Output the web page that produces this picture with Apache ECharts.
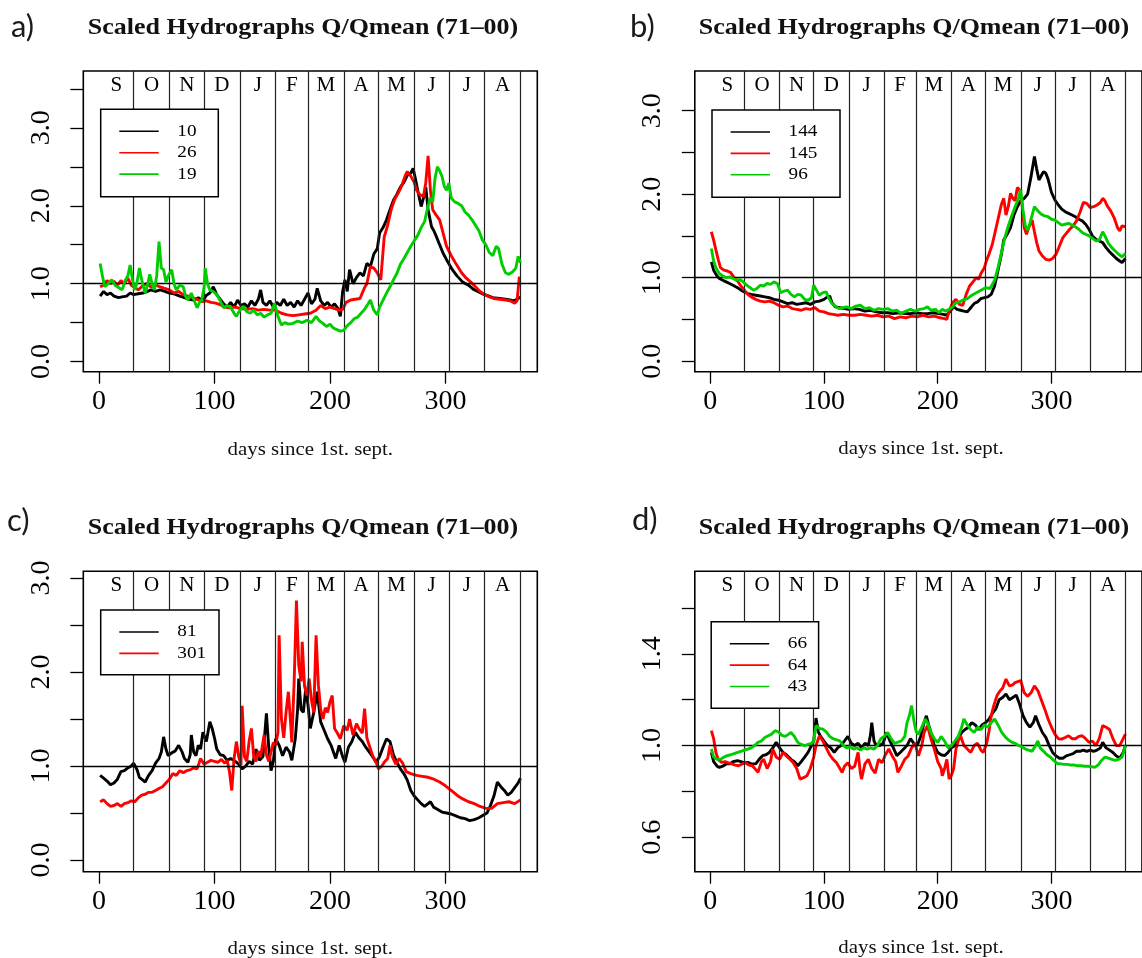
<!DOCTYPE html>
<html><head><meta charset="utf-8">
<script src="https://cdn.jsdelivr.net/npm/echarts@6.0.0/dist/echarts.min.js"></script>
<style>html,body{margin:0;padding:0;background:#fff}#chart{width:1142px;height:958px}</style>
</head><body><div id="chart"></div>
<script>
// ---------- shared axis data ----------
const monthStarts = [0,30,61,91,122,153,181,212,242,273,303,334,365];
const monthLetters = ['S','O','N','D','J','F','M','A','M','J','J','A'];
const xTickValues = [0,100,200,300];
const titleText = 'Scaled Hydrographs Q/Qmean (71\u201300)';
const xAxisTitle = 'days since 1st. sept.';
const seriesColors = ['#000000','#ff0000','#00cd00'];

// ---------- panel a ----------
const aNames = ['10','26','19'];
const aYTicks = [0,0.5,1,1.5,2,2.5,3,3.5];
const aYLabels = [0,1,2,3];
const a10 = [[1,0.84],[4,0.9],[7,0.86],[10,0.88],[13,0.84],[17,0.82],[20,0.83],[24,0.84],[27,0.88],[30,0.86],[34,0.87],[38,0.88],[42,0.9],[45,0.92],[49,0.9],[53,0.92],[57,0.9],[61,0.88],[65,0.87],[70,0.84],[74,0.82],[78,0.8],[82,0.79],[86,0.82],[90,0.78],[93,0.85],[96,0.88],[99,0.96],[102,0.86],[105,0.8],[108,0.74],[111,0.7],[114,0.76],[117,0.7],[120,0.79],[123,0.72],[126,0.74],[129,0.7],[132,0.78],[135,0.72],[138,0.8],[140,0.92],[142,0.76],[145,0.72],[148,0.78],[151,0.7],[154,0.76],[157,0.72],[160,0.8],[163,0.72],[166,0.76],[169,0.7],[172,0.78],[175,0.72],[178,0.8],[181,0.88],[184,0.74],[187,0.8],[189,0.94],[192,0.78],[195,0.72],[198,0.76],[201,0.7],[204,0.74],[207,0.68],[209,0.58],[211,0.9],[213,1.05],[215,0.9],[217,1.18],[220,1.0],[223,1.08],[226,1.14],[229,1.1],[232,1.26],[235,1.22],[238,1.38],[241,1.45],[243,1.65],[246,1.72],[249,1.82],[252,1.95],[255,2.07],[258,2.15],[261,2.24],[264,2.3],[267,2.39],[270,2.42],[272,2.48],[274,2.35],[276,2.2],[279,1.99],[281,2.1],[283,2.24],[285,1.95],[288,1.73],[290,1.68],[292,1.61],[295,1.5],[298,1.39],[302,1.28],[306,1.18],[310,1.1],[315,1.02],[320,0.98],[324,0.93],[328,0.9],[332,0.87],[336,0.85],[341,0.82],[347,0.81],[352,0.8],[356,0.79],[359,0.78],[362,0.8],[365,0.83]];
const a26 = [[1,0.96],[4,0.98],[7,1.04],[10,1.0],[13,1.03],[16,0.98],[19,1.04],[22,1.0],[25,1.07],[28,0.98],[31,0.95],[34,0.92],[37,0.96],[41,1.0],[45,0.96],[49,0.98],[53,0.96],[57,0.94],[61,0.92],[65,0.88],[69,0.9],[73,0.86],[77,0.84],[81,0.82],[85,0.8],[89,0.77],[93,0.78],[97,0.76],[101,0.75],[105,0.73],[109,0.7],[113,0.69],[118,0.7],[123,0.68],[128,0.67],[133,0.68],[138,0.66],[143,0.67],[148,0.66],[153,0.66],[158,0.62],[163,0.6],[168,0.59],[173,0.6],[178,0.61],[183,0.62],[188,0.66],[192,0.72],[196,0.68],[200,0.7],[204,0.68],[208,0.66],[211,0.67],[214,0.76],[218,0.79],[222,0.8],[226,0.81],[230,0.95],[232,1.0],[235,1.22],[238,1.2],[241,1.14],[244,1.05],[247,1.6],[250,1.75],[253,1.95],[256,2.08],[259,2.16],[262,2.25],[265,2.38],[267,2.44],[270,2.38],[273,2.3],[275,2.2],[278,2.14],[281,2.12],[283,2.3],[285,2.64],[287,2.2],[289,1.95],[292,1.88],[295,1.82],[298,1.65],[301,1.48],[305,1.36],[309,1.26],[314,1.14],[318,1.07],[322,1.02],[326,0.96],[330,0.9],[334,0.86],[338,0.83],[342,0.81],[347,0.8],[352,0.79],[356,0.78],[360,0.75],[362,0.78],[364,1.09]];
const a19 = [[1,1.26],[3,1.1],[5,0.96],[8,1.0],[11,1.05],[14,0.98],[17,0.95],[20,0.92],[23,1.05],[25,1.1],[27,1.24],[29,1.05],[31,0.92],[33,1.02],[35,1.2],[37,1.05],[40,0.88],[42,0.98],[44,1.12],[46,1.0],[48,0.92],[50,1.1],[52,1.54],[54,1.2],[56,1.18],[58,1.02],[60,1.1],[63,1.18],[65,1.0],[67,0.92],[70,0.98],[73,0.96],[75,0.84],[77,0.79],[80,0.88],[82,0.8],[85,0.69],[87,0.76],[89,0.79],[91,0.95],[92,1.2],[94,1.0],[96,0.92],[99,0.9],[102,0.86],[105,0.78],[108,0.69],[111,0.72],[114,0.7],[117,0.62],[119,0.58],[122,0.66],[125,0.71],[128,0.64],[131,0.62],[134,0.66],[137,0.6],[140,0.62],[143,0.57],[146,0.6],[149,0.62],[152,0.75],[155,0.58],[158,0.47],[161,0.5],[164,0.48],[168,0.49],[172,0.52],[176,0.5],[180,0.53],[184,0.5],[188,0.58],[191,0.52],[194,0.49],[197,0.45],[200,0.48],[203,0.43],[206,0.41],[209,0.39],[212,0.4],[215,0.46],[218,0.5],[221,0.55],[224,0.57],[227,0.62],[230,0.67],[233,0.74],[235,0.79],[238,0.66],[241,0.6],[243,0.7],[246,0.79],[249,0.88],[252,0.96],[255,1.05],[258,1.13],[261,1.25],[264,1.32],[267,1.4],[270,1.48],[273,1.55],[276,1.62],[279,1.72],[282,1.8],[285,2.0],[287,2.1],[289,2.05],[291,2.35],[293,2.5],[295,2.45],[297,2.38],[299,2.25],[301,2.2],[303,2.29],[305,2.1],[308,2.05],[311,2.03],[314,2.0],[317,1.92],[320,1.88],[323,1.82],[326,1.75],[329,1.68],[332,1.56],[335,1.5],[338,1.4],[341,1.36],[344,1.48],[346,1.45],[349,1.25],[352,1.14],[355,1.12],[358,1.15],[361,1.2],[363,1.35],[365,1.27]];

// ---------- panel b ----------
const bNames = ['144','145','96'];
const bYTicks = [0,0.5,1,1.5,2,2.5,3];
const bYLabels = [0,1,2,3];
const b144 = [[1,1.19],[3,1.09],[6,1.02],[8,0.99],[11,0.97],[14,0.95],[17,0.93],[20,0.91],[24,0.88],[27,0.85],[30,0.83],[33,0.81],[36,0.8],[40,0.79],[44,0.78],[48,0.77],[52,0.76],[56,0.74],[60,0.73],[64,0.71],[68,0.69],[72,0.7],[76,0.68],[80,0.69],[84,0.7],[88,0.68],[92,0.71],[96,0.72],[100,0.74],[103,0.77],[105,0.78],[107,0.7],[110,0.65],[114,0.64],[118,0.63],[122,0.62],[126,0.63],[131,0.62],[136,0.6],[141,0.61],[146,0.59],[151,0.58],[156,0.58],[161,0.57],[166,0.58],[171,0.57],[176,0.57],[181,0.58],[186,0.57],[191,0.57],[196,0.58],[201,0.57],[205,0.56],[208,0.55],[211,0.6],[214,0.65],[217,0.62],[220,0.61],[223,0.6],[226,0.59],[229,0.64],[232,0.69],[235,0.71],[238,0.75],[241,0.76],[244,0.77],[247,0.8],[250,0.9],[253,1.09],[256,1.28],[258,1.45],[261,1.52],[264,1.6],[267,1.75],[270,1.85],[273,1.92],[276,1.95],[279,2.0],[282,2.21],[285,2.45],[287,2.3],[289,2.17],[291,2.22],[293,2.27],[295,2.25],[297,2.18],[300,2.02],[303,1.93],[306,1.87],[309,1.82],[312,1.79],[315,1.77],[318,1.75],[321,1.73],[324,1.7],[327,1.68],[330,1.64],[333,1.58],[336,1.5],[339,1.46],[342,1.44],[345,1.42],[348,1.36],[351,1.31],[354,1.27],[357,1.23],[360,1.2],[362,1.18],[365,1.23]];
const b145 = [[1,1.55],[3,1.45],[5,1.33],[7,1.22],[9,1.12],[12,1.09],[15,1.08],[18,1.06],[21,1.0],[24,0.96],[27,0.9],[30,0.85],[33,0.8],[36,0.77],[40,0.74],[44,0.72],[48,0.71],[52,0.72],[56,0.7],[60,0.67],[64,0.65],[68,0.66],[72,0.63],[76,0.62],[80,0.61],[84,0.63],[88,0.62],[92,0.64],[96,0.6],[100,0.59],[104,0.57],[108,0.56],[112,0.55],[117,0.56],[122,0.55],[127,0.55],[132,0.56],[137,0.55],[142,0.54],[147,0.55],[152,0.53],[157,0.54],[162,0.51],[167,0.53],[172,0.52],[177,0.54],[182,0.53],[187,0.55],[192,0.53],[197,0.54],[202,0.52],[206,0.51],[208,0.5],[210,0.6],[213,0.7],[216,0.74],[219,0.68],[222,0.67],[225,0.8],[228,0.9],[231,0.95],[234,1.0],[236,0.98],[238,1.05],[241,1.12],[243,1.21],[245,1.28],[248,1.4],[250,1.52],[253,1.7],[256,1.88],[258,1.95],[260,1.75],[262,1.85],[264,2.01],[266,1.95],[268,1.92],[270,2.08],[272,2.05],[274,1.9],[276,1.6],[278,1.52],[280,1.6],[283,1.69],[285,1.55],[287,1.42],[289,1.32],[292,1.26],[295,1.22],[298,1.21],[301,1.23],[304,1.28],[307,1.38],[310,1.48],[313,1.53],[316,1.58],[319,1.62],[322,1.68],[325,1.78],[328,1.9],[331,1.89],[334,1.84],[337,1.85],[340,1.87],[343,1.9],[345,1.95],[347,1.92],[349,1.86],[352,1.8],[355,1.72],[358,1.6],[360,1.56],[362,1.62],[365,1.61]];
const b96 = [[1,1.35],[3,1.2],[5,1.12],[8,1.05],[11,1.02],[14,1.0],[17,1.01],[20,0.99],[23,0.97],[26,0.98],[29,0.95],[32,0.91],[35,0.88],[38,0.85],[41,0.87],[44,0.91],[47,0.9],[50,0.93],[53,0.92],[56,0.95],[59,0.93],[62,0.82],[65,0.84],[68,0.85],[71,0.8],[74,0.77],[77,0.8],[80,0.79],[83,0.74],[86,0.73],[89,0.76],[91,0.91],[93,0.86],[96,0.79],[99,0.82],[102,0.83],[104,0.76],[107,0.69],[110,0.66],[113,0.63],[116,0.64],[120,0.65],[124,0.63],[128,0.66],[132,0.67],[136,0.63],[140,0.64],[144,0.61],[148,0.63],[152,0.62],[156,0.63],[160,0.6],[164,0.61],[168,0.57],[172,0.6],[176,0.62],[180,0.6],[184,0.62],[188,0.63],[191,0.65],[194,0.61],[198,0.62],[201,0.58],[204,0.62],[207,0.6],[210,0.62],[213,0.65],[216,0.7],[219,0.71],[222,0.73],[226,0.75],[230,0.79],[234,0.82],[238,0.85],[242,0.88],[246,0.87],[250,0.97],[253,1.12],[256,1.3],[259,1.48],[262,1.62],[265,1.74],[268,1.85],[271,1.95],[273,2.05],[275,1.8],[277,1.62],[279,1.57],[281,1.65],[283,1.75],[285,1.85],[288,1.8],[291,1.76],[294,1.74],[297,1.73],[300,1.7],[303,1.69],[306,1.66],[309,1.63],[312,1.64],[315,1.65],[318,1.63],[321,1.61],[324,1.58],[327,1.54],[330,1.52],[333,1.5],[336,1.47],[339,1.44],[342,1.45],[345,1.55],[347,1.5],[350,1.41],[353,1.36],[356,1.32],[359,1.28],[362,1.25],[365,1.29]];

// ---------- panel c ----------
const cNames = ['81','301'];
const cYTicks = [0,0.5,1,1.5,2,2.5,3];
const cYLabels = [0,1,2,3];
const c81 = [[1,0.9],[4,0.87],[7,0.84],[10,0.8],[13,0.82],[16,0.86],[19,0.94],[22,0.95],[25,0.98],[28,1.0],[30,1.03],[33,0.96],[35,0.88],[38,0.85],[40,0.83],[43,0.9],[46,0.95],[49,1.03],[52,1.08],[54,1.15],[56,1.31],[58,1.18],[60,1.11],[63,1.14],[66,1.16],[69,1.22],[72,1.15],[74,1.08],[77,1.04],[79,1.12],[80,1.33],[82,1.15],[84,1.11],[86,1.22],[88,1.18],[90,1.36],[93,1.26],[96,1.47],[98,1.4],[100,1.3],[102,1.18],[105,1.12],[108,1.11],[111,1.06],[114,1.08],[118,1.05],[121,1.02],[124,0.97],[127,1.0],[130,1.05],[133,1.02],[136,1.18],[139,1.06],[142,1.1],[145,1.56],[147,1.2],[149,0.95],[151,1.05],[153,1.29],[156,1.22],[159,1.11],[162,1.2],[165,1.15],[167,1.06],[170,1.29],[172,1.6],[173,1.93],[175,1.6],[177,1.57],[179,1.82],[181,1.65],[183,1.4],[186,1.57],[189,1.79],[192,1.47],[195,1.38],[198,1.29],[201,1.22],[203,1.15],[205,1.08],[208,1.22],[211,1.1],[213,1.04],[216,1.2],[219,1.26],[222,1.36],[225,1.3],[228,1.26],[231,1.2],[234,1.15],[237,1.1],[240,1.04],[243,1.1],[246,1.2],[249,1.29],[252,1.26],[255,1.12],[258,1.04],[261,0.97],[264,0.92],[267,0.85],[270,0.74],[273,0.68],[276,0.64],[279,0.6],[282,0.57],[285,0.6],[287,0.62],[290,0.56],[293,0.54],[297,0.51],[301,0.5],[305,0.49],[309,0.47],[313,0.45],[317,0.44],[321,0.42],[325,0.43],[329,0.45],[333,0.48],[336,0.5],[339,0.58],[342,0.68],[345,0.83],[348,0.78],[351,0.74],[354,0.69],[357,0.72],[360,0.77],[363,0.82],[365,0.87]];
const c301 = [[1,0.62],[4,0.64],[7,0.6],[10,0.57],[13,0.58],[16,0.6],[19,0.57],[22,0.6],[25,0.61],[28,0.63],[31,0.62],[34,0.66],[37,0.69],[40,0.7],[43,0.72],[46,0.72],[49,0.74],[52,0.76],[55,0.78],[58,0.82],[61,0.86],[64,0.92],[67,0.9],[70,0.95],[73,0.93],[76,0.95],[79,0.96],[82,0.98],[85,0.97],[88,1.08],[91,1.02],[94,1.04],[97,1.06],[100,1.05],[103,1.04],[106,1.07],[109,1.03],[111,1.06],[113,0.94],[115,0.74],[117,1.08],[119,1.26],[121,1.1],[123,1.01],[124,1.64],[126,1.1],[128,1.05],[130,1.26],[132,1.4],[134,1.1],[136,1.05],[138,1.16],[140,1.1],[143,1.33],[145,1.12],[147,1.05],[149,1.15],[151,1.25],[153,1.22],[155,1.36],[156,2.39],[158,1.5],[160,1.3],[162,1.57],[164,1.79],[166,1.45],[167,1.25],[169,1.89],[171,2.76],[173,2.07],[175,1.9],[176,2.32],[178,1.85],[180,1.75],[182,1.93],[184,1.7],[186,1.57],[188,2.39],[190,1.86],[192,1.6],[194,1.5],[196,1.62],[198,1.57],[200,1.68],[202,1.75],[204,1.4],[206,1.36],[209,1.29],[212,1.43],[215,1.38],[217,1.5],[220,1.33],[223,1.45],[225,1.4],[228,1.35],[230,1.61],[232,1.3],[234,1.22],[237,1.11],[240,1.04],[242,0.97],[245,1.0],[247,1.04],[250,1.08],[252,1.22],[254,1.1],[257,1.02],[260,1.08],[263,1.03],[266,0.94],[270,0.92],[275,0.9],[280,0.89],[285,0.88],[290,0.86],[295,0.83],[300,0.79],[305,0.74],[310,0.69],[315,0.65],[320,0.62],[325,0.6],[330,0.57],[335,0.55],[340,0.55],[345,0.6],[350,0.61],[355,0.62],[360,0.6],[365,0.64]];

// ---------- panel d ----------
const dNames = ['66','64','43'];
const dYTicks = [0.6,0.8,1.0,1.2,1.4,1.6];
const dYLabels = [0.6,1.0,1.4];
const d66 = [[1,0.97],[3,0.93],[6,0.91],[8,0.905],[11,0.91],[14,0.92],[17,0.92],[20,0.93],[24,0.934],[27,0.93],[30,0.925],[33,0.927],[36,0.92],[40,0.92],[43,0.94],[46,0.956],[49,0.96],[52,0.97],[55,0.99],[58,1.014],[61,0.99],[64,0.97],[67,0.96],[71,0.94],[74,0.93],[77,0.912],[80,0.93],[83,0.95],[86,0.97],[89,1.0],[91,1.02],[93,1.12],[95,1.06],[97,1.04],[100,1.02],[103,1.0],[106,0.99],[109,0.97],[112,0.99],[115,1.0],[118,1.02],[121,1.04],[124,1.01],[127,1.0],[130,1.01],[133,0.99],[136,1.01],[139,1.0],[141,1.05],[142,1.1],[144,1.02],[146,1.0],[149,1.0],[152,1.01],[155,1.057],[158,1.02],[161,0.99],[164,0.956],[167,0.97],[170,0.985],[173,1.0],[176,1.03],[179,1.01],[182,1.0],[185,1.04],[188,1.1],[190,1.13],[192,1.09],[194,1.057],[197,1.0],[200,0.97],[203,0.96],[206,0.956],[209,0.97],[212,0.99],[215,1.0],[218,1.03],[221,1.057],[224,1.07],[227,1.08],[230,1.1],[233,1.09],[236,1.07],[239,1.09],[242,1.1],[245,1.115],[248,1.14],[251,1.16],[254,1.2],[257,1.21],[260,1.225],[263,1.2],[266,1.21],[269,1.22],[272,1.18],[275,1.13],[278,1.1],[281,1.08],[284,1.1],[286,1.13],[289,1.09],[292,1.057],[295,1.036],[298,1.0],[301,0.97],[304,0.955],[307,0.945],[310,0.945],[313,0.955],[316,0.96],[319,0.965],[322,0.975],[325,0.975],[328,0.98],[331,0.975],[334,0.98],[337,0.975],[340,0.98],[343,0.99],[345,1.014],[348,0.99],[351,0.98],[354,0.97],[357,0.955],[360,0.945],[363,0.97],[365,1.0]];
const d64 = [[1,1.065],[3,1.03],[5,0.97],[7,0.94],[10,0.927],[13,0.93],[16,0.925],[19,0.92],[22,0.915],[25,0.912],[28,0.92],[31,0.925],[34,0.915],[37,0.912],[40,0.895],[42,0.883],[45,0.93],[47,0.94],[50,0.9],[53,0.93],[55,0.985],[58,0.95],[61,0.94],[64,0.97],[67,0.955],[70,0.94],[73,0.925],[76,0.9],[79,0.854],[82,0.86],[85,0.868],[88,0.9],[91,0.95],[93,1.0],[96,1.043],[99,1.02],[102,0.99],[105,0.96],[108,0.94],[111,0.925],[114,0.9],[116,0.883],[118,0.91],[121,0.925],[124,0.9],[127,0.91],[130,0.97],[132,0.88],[133,0.854],[136,0.92],[139,0.94],[142,0.9],[145,0.88],[148,0.94],[151,0.925],[154,0.96],[157,0.985],[160,0.955],[163,0.93],[165,0.883],[168,0.91],[171,0.94],[174,0.955],[177,0.99],[180,1.01],[183,0.955],[186,1.0],[188,1.057],[191,1.087],[194,1.03],[197,0.985],[200,0.93],[203,0.9],[204,0.868],[206,0.9],[208,0.94],[210,0.854],[212,0.87],[214,0.9],[216,0.985],[218,1.02],[220,1.043],[223,1.0],[226,0.985],[229,0.97],[232,1.0],[235,1.01],[238,0.98],[240,0.97],[243,1.01],[245,1.06],[247,1.13],[249,1.17],[252,1.217],[255,1.24],[257,1.25],[260,1.29],[263,1.26],[266,1.265],[268,1.275],[271,1.28],[273,1.283],[276,1.23],[279,1.215],[282,1.23],[285,1.26],[288,1.24],[291,1.2],[294,1.16],[297,1.116],[300,1.08],[303,1.05],[306,1.03],[309,1.028],[312,1.035],[315,1.043],[318,1.03],[321,1.03],[324,1.04],[327,1.043],[330,1.03],[333,1.014],[336,1.02],[339,1.0],[342,1.03],[345,1.087],[348,1.08],[351,1.07],[354,1.03],[357,1.0],[360,1.0],[363,1.03],[365,1.05]];
const d43 = [[1,0.985],[3,0.95],[6,0.94],[9,0.94],[12,0.95],[15,0.956],[18,0.96],[21,0.965],[24,0.97],[27,0.975],[30,0.98],[33,0.985],[36,0.99],[39,1.0],[42,1.014],[45,1.02],[48,1.035],[51,1.043],[54,1.05],[57,1.065],[60,1.06],[63,1.045],[66,1.04],[69,1.05],[71,1.057],[74,1.04],[77,1.014],[80,1.005],[83,1.0],[86,1.005],[89,1.01],[91,1.02],[93,1.087],[96,1.075],[99,1.072],[102,1.06],[105,1.04],[108,1.03],[111,1.025],[114,1.02],[117,1.0],[120,0.99],[123,0.995],[126,0.985],[129,0.99],[132,0.98],[135,0.99],[138,0.985],[141,0.99],[144,0.985],[147,1.0],[150,1.03],[153,1.04],[156,1.057],[159,1.03],[162,1.01],[165,1.015],[168,1.02],[171,1.04],[173,1.1],[175,1.13],[177,1.174],[179,1.11],[181,1.06],[183,1.05],[186,1.08],[189,1.116],[191,1.1],[194,1.057],[197,1.03],[200,1.014],[203,1.04],[206,1.02],[209,0.99],[212,1.0],[215,1.02],[218,1.04],[221,1.08],[223,1.116],[226,1.09],[229,1.07],[232,1.057],[235,1.08],[238,1.07],[241,1.09],[244,1.08],[247,1.1],[250,1.116],[253,1.09],[256,1.06],[259,1.04],[262,1.025],[265,1.015],[268,1.01],[271,1.0],[274,0.995],[277,0.985],[280,0.98],[283,0.975],[286,1.0],[288,1.02],[290,0.99],[293,0.975],[296,0.96],[299,0.95],[302,0.935],[305,0.922],[308,0.92],[311,0.918],[314,0.918],[317,0.915],[320,0.915],[323,0.912],[326,0.912],[329,0.91],[332,0.91],[335,0.908],[338,0.905],[341,0.915],[344,0.935],[347,0.95],[350,0.945],[353,0.94],[356,0.935],[359,0.94],[362,0.95],[365,1.0]];

// ---------- layout (positions/styles only) ----------
const serif = "'Liberation Serif','Times New Roman',serif";
const panels = [
  {tag:'a)', names:aNames, data:[a10,a26,a19], yMin:-0.13, yMax:3.73, yTicks:aYTicks, yLabels:aYLabels,
   grid:{left:83.3, top:71, width:454, height:300.7}, leg:{x:100.7,y:109.3,w:117.6,h:87.4},
   tagPos:[11,27], titlePos:[303,28], xnamePos:[310.3,450]},
  {tag:'b)', names:bNames, data:[b144,b145,b96], yMin:-0.126, yMax:3.475, yTicks:bYTicks, yLabels:bYLabels,
   grid:{left:694.8, top:71, width:454, height:300.7}, leg:{x:712,y:110,w:128,h:87.3},
   tagPos:[630,27], titlePos:[914,28], xnamePos:[921,449.3]},
  {tag:'c)', names:cNames, data:[c81,c301], yMin:-0.124, yMax:3.071, yTicks:cYTicks, yLabels:cYLabels,
   grid:{left:83.3, top:571.3, width:454, height:300.4}, leg:{x:100.7,y:610,w:118.3,h:64.7},
   tagPos:[7,521], titlePos:[303,528], xnamePos:[310.3,949]},
  {tag:'d)', names:dNames, data:[d66,d64,d43], yMin:0.45, yMax:1.76, yTicks:dYTicks, yLabels:dYLabels,
   grid:{left:694.8, top:571.3, width:454, height:300.4}, leg:{x:711.2,y:621.7,w:107.4,h:86.6},
   tagPos:[632,520], titlePos:[914,528], xnamePos:[921,948.3]}
];

const monthMids = monthLetters.map((m,i)=> (monthStarts[i]+monthStarts[i+1])/2);
const xMin = -13.56, xMax = 379.56;

const grids=[], xAxes=[], yAxes=[], series=[], graphics=[];
panels.forEach((p,i)=>{
  grids.push(Object.assign({show:true, borderColor:'#000', borderWidth:1.6, backgroundColor:'transparent', containLabel:false}, p.grid));
  // bottom axis: day ticks
  xAxes.push({gridIndex:i, type:'value', position:'bottom', min:xMin, max:xMax,
    axisLine:{show:false, onZero:false}, splitLine:{show:false},
    axisTick:{show:true, length:12, customValues:xTickValues, lineStyle:{color:'#000', width:1.3}},
    axisLabel:{show:true, customValues:xTickValues, margin:16, fontSize:28, fontFamily:serif, color:'#000'}});
  // top axis: month letters
  xAxes.push({gridIndex:i, type:'value', position:'top', min:xMin, max:xMax,
    axisLine:{show:false, onZero:false}, splitLine:{show:false}, axisTick:{show:false},
    axisLabel:{show:true, inside:true, customValues:monthMids, margin:4, fontSize:21, fontFamily:serif, color:'#000',
      formatter:(v)=>{ const k = monthMids.findIndex(m=>Math.abs(m-v)<1e-6); return k>=0?monthLetters[k]:''; }}});
  yAxes.push({gridIndex:i, type:'value', position:'left', min:p.yMin, max:p.yMax,
    axisLine:{show:false, onZero:false}, splitLine:{show:false},
    axisTick:{show:true, length:13, customValues:p.yTicks, lineStyle:{color:'#000', width:1.3}},
    axisLabel:{show:true, customValues:p.yLabels, rotate:90, margin:28, fontSize:28, fontFamily:serif, color:'#000',
      formatter:(v)=>Number(v).toFixed(1)}});
  // reference lines (month boundaries + Q/Qmean = 1)
  series.push({type:'line', name:'ref'+i, xAxisIndex:2*i, yAxisIndex:i, data:[], z:1, silent:true,
    markLine:{silent:true, symbol:['none','none'], animation:false, label:{show:false},
      data: monthStarts.slice(1).map(d=>({xAxis:d, lineStyle:{color:'#222', width:1.2, type:'solid'}}))
        .concat([{yAxis:1, lineStyle:{color:'#000', width:1.4, type:'solid'}}])}});
  p.data.forEach((arr,k)=>{
    series.push({type:'line', name:p.names[k], xAxisIndex:2*i, yAxisIndex:i, data:arr, z:3+k,
      showSymbol:false, symbol:'none', smooth:false, clip:true,
      lineStyle:{color:seriesColors[k], width:2.9}, itemStyle:{color:seriesColors[k]}});
  });
  // panel tag
  graphics.push({type:'text', x:p.tagPos[0], y:p.tagPos[1], style:{text:p.tag, fill:'#1a1a1a',
    fontSize:31, fontFamily:"Lato,'Open Sans',sans-serif", textAlign:'left', verticalAlign:'middle', textVerticalAlign:'middle'}});
  // title
  graphics.push({type:'text', x:p.titlePos[0], y:p.titlePos[1], scaleX:1.13, style:{text:titleText, fill:'#111',
    fontSize:23, fontWeight:'bold', fontFamily:serif, textAlign:'center', verticalAlign:'middle', textVerticalAlign:'middle'}});
  // x axis title
  graphics.push({type:'text', x:p.xnamePos[0], y:p.xnamePos[1], scaleX:1.13, style:{text:xAxisTitle, fill:'#111',
    fontSize:18.5, fontFamily:serif, textAlign:'center', verticalAlign:'middle', textVerticalAlign:'middle'}});
  // legend box
  const L = p.leg;
  graphics.push({type:'rect', shape:{x:L.x, y:L.y, width:L.w, height:L.h}, style:{fill:'#fff', stroke:'#000', lineWidth:1.5}, z:10});
  p.names.forEach((nm,k)=>{
    const yy = L.y + 22 + k*21.4;
    graphics.push({type:'line', shape:{x1:L.x+18.6, y1:yy, x2:L.x+58, y2:yy}, style:{stroke:seriesColors[k], lineWidth:1.6}, z:11});
    graphics.push({type:'text', x:L.x+76.6, y:yy, scaleX:1.13, z:11, style:{text:nm, fill:'#000', fontSize:17, fontFamily:serif,
      textAlign:'left', verticalAlign:'middle', textVerticalAlign:'middle'}});
  });
});

const chart = echarts.init(document.getElementById('chart'), null, {renderer:'canvas', width:1142, height:958});
chart.setOption({
  animation:false, backgroundColor:'#ffffff',
  grid:grids, xAxis:xAxes, yAxis:yAxes, series:series, graphic:graphics
});
</script></body></html>
